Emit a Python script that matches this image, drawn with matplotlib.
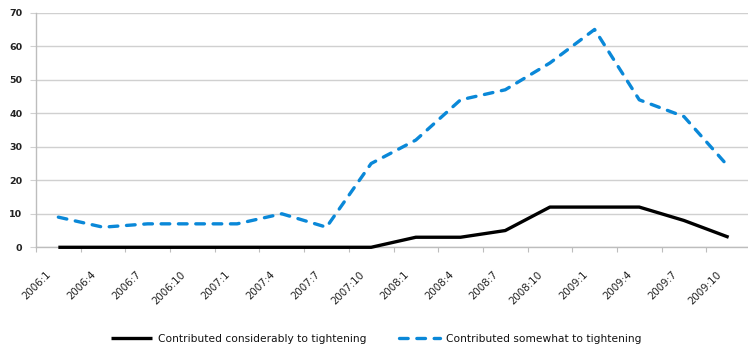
import matplotlib
matplotlib.use("Agg")
import matplotlib.pyplot as plt
import numpy as np

# Quarterly survey periods
periods = ["2006:1", "2006:4", "2006:7", "2006:10",
           "2007:1", "2007:4", "2007:7", "2007:10",
           "2008:1", "2008:4", "2008:7", "2008:10",
           "2009:1", "2009:4", "2009:7", "2009:10"]

# Share of respondents (%)
considerably = [0, 0, 0, 0, 0, 0, 0, 0, 3, 3, 5, 12, 12, 12, 8, 3]
somewhat = [9, 6, 7, 7, 7, 10, 6, 25, 32, 44, 47, 55, 65, 44, 39, 24]

label_considerably = "Contributed considerably to tightening"
label_somewhat = "Contributed somewhat to tightening"

y_ticks = list(range(0, 71, 10))

plt.rcParams["font.family"] = ["DejaVu Sans"]

fig = plt.figure(figsize=(7.48, 3.44), dpi=100)
ax = fig.add_axes([36 / 748, (344 - 247.3) / 344, (751 - 36) / 748, (247.3 - 12.7) / 344])

x = np.arange(len(periods))
grid_col = "#d0d0d0"
axis_col = "#bdbdbd"

ax.plot(x, considerably, color="black", lw=2.4, solid_capstyle="butt",
        label=label_considerably, zorder=4, clip_on=False)
ax.plot(x, somewhat, color="#0a88d8", lw=2.4, dashes=(2.6, 2.6),
        dash_capstyle="round", label=label_somewhat, zorder=3, clip_on=False)

ax.set_xlim(-0.5, len(periods) - 0.5)
ax.set_ylim(0, 70)

# y axis
ax.set_yticks(y_ticks)
ax.set_yticklabels([str(v) for v in y_ticks])
ax.tick_params(axis="y", length=4.3, width=0.8, color=grid_col, pad=5.5,
               labelsize=6.8, labelcolor="#222222")
for lab in ax.get_yticklabels():
    lab.set_fontweight("bold")
ax.yaxis.grid(True, color=grid_col, lw=1.0)
ax.set_axisbelow(True)

# x axis: tick marks on category boundaries, labels near them
ax.set_xticks(np.arange(len(periods)) - 0.5, minor=True)
ax.set_xticks(x - 0.27)
ax.set_xticklabels(periods)
ax.tick_params(axis="x", which="minor", length=3.5, width=0.8, color=axis_col)
ax.tick_params(axis="x", which="major", length=0, pad=16, labelsize=7.4,
               labelcolor="#222222")
plt.setp(ax.get_xticklabels(), rotation=45, ha="right", va="top",
         rotation_mode="anchor")

for s in ("top", "right"):
    ax.spines[s].set_visible(False)
ax.spines["left"].set_color(axis_col)
ax.spines["bottom"].set_color(axis_col)
ax.spines["left"].set_linewidth(1.0)
ax.spines["bottom"].set_linewidth(1.0)

fig.legend(loc="lower center", bbox_to_anchor=(0.503, -0.027), ncol=2,
           frameon=False, fontsize=7.7, handlelength=3.9, handletextpad=0.55,
           columnspacing=3.0, labelcolor="#111111")

fig.savefig("out.png", dpi=100)
